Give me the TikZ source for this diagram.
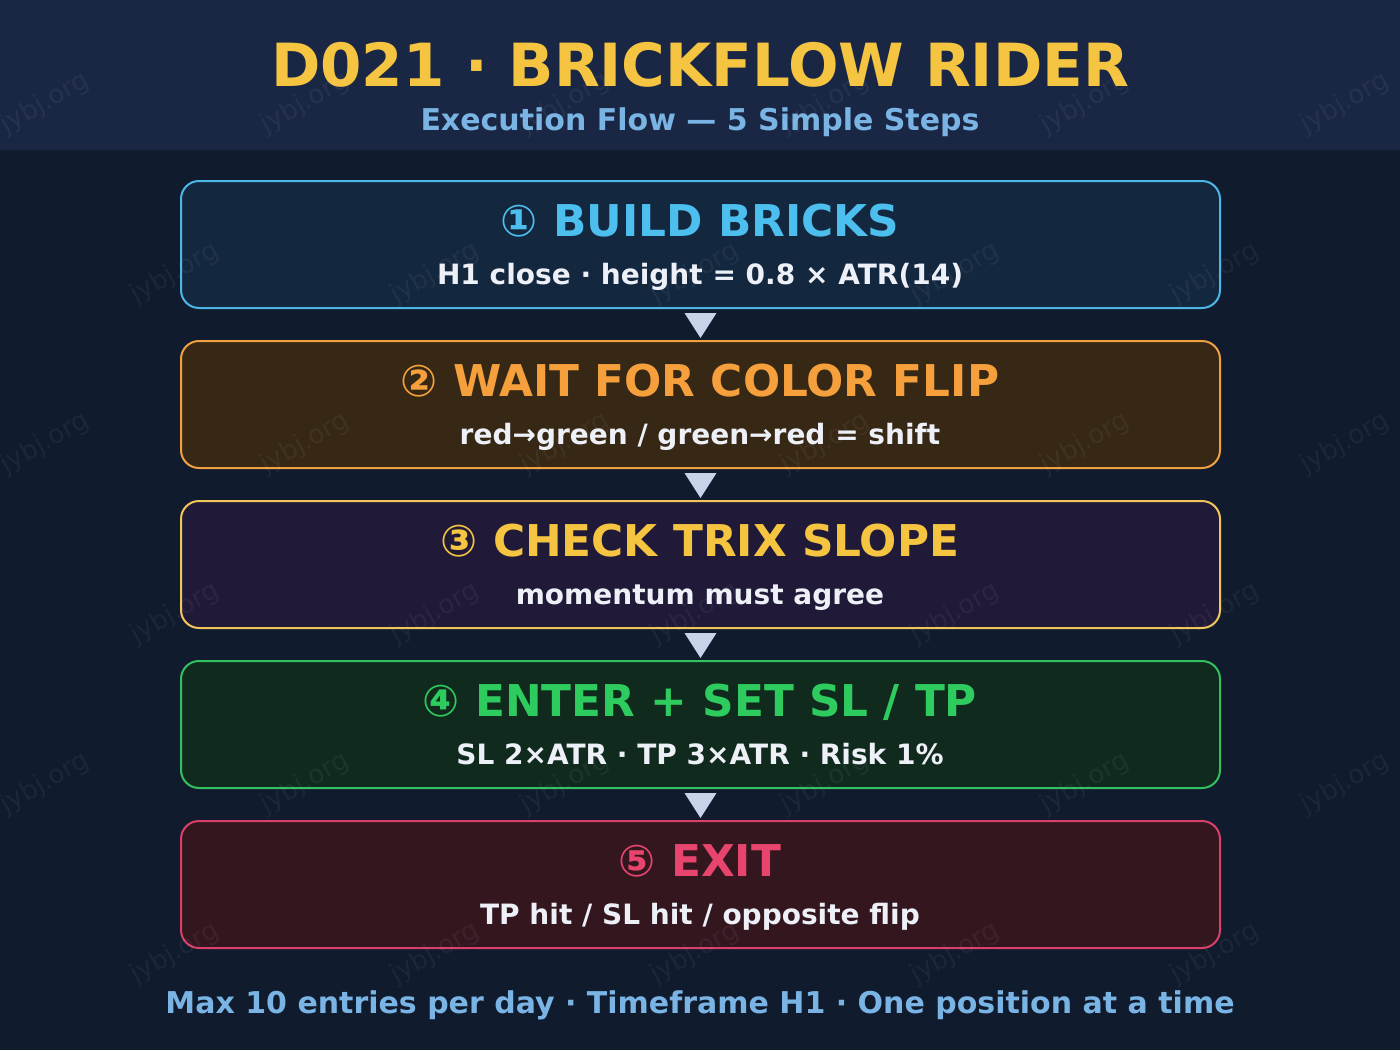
\documentclass[tikz,border=0pt]{standalone}
\usepackage{fontspec}
\setmainfont{DejaVu Sans}
\newcommand{\fsz}[1]{\fontsize{#1}{#1}\selectfont}
\definecolor{bgc}{HTML}{111B2E}
\definecolor{hdrc}{HTML}{1A2744}
\definecolor{titc}{HTML}{F5C542}
\definecolor{subc}{HTML}{7AB4E4}
\definecolor{txtc}{HTML}{EEF0F8}
\definecolor{arrc}{HTML}{C8D3EA}
\definecolor{fillA}{HTML}{13273F}\definecolor{lineA}{HTML}{4CB6E6}\definecolor{textA}{HTML}{4DBFEE}
\definecolor{fillB}{HTML}{362814}\definecolor{lineB}{HTML}{F0A042}\definecolor{textB}{HTML}{F5A03C}
\definecolor{fillC}{HTML}{201A38}\definecolor{lineC}{HTML}{F2C55A}\definecolor{textC}{HTML}{F5C542}
\definecolor{fillD}{HTML}{102B1E}\definecolor{lineD}{HTML}{33C060}\definecolor{textD}{HTML}{2ECC5F}
\definecolor{fillE}{HTML}{34161F}\definecolor{lineE}{HTML}{D9406A}\definecolor{textE}{HTML}{E8456E}
\tikzset{
  stepbox/.style={draw, rectangle, rounded corners=18pt, line width=2pt, outer sep=0pt,
    minimum width=1039pt, minimum height=127pt, inner sep=0pt},
  boxtitle/.style={anchor=base, inner sep=0pt, font=\fsz{43.8}\bfseries},
  boxsub/.style={anchor=base, inner sep=0pt, text=txtc, font=\fsz{28}\bfseries},
  flowarrow/.style={fill=arrc, draw=none},
  wm/.style={rotate=30, inner sep=0pt, text=white, text opacity=0.05, font=\fsz{26}}
}
\begin{document}
\begin{tikzpicture}[x=1pt,y=-1pt]
\useasboundingbox (0,0) rectangle (1400,1050);
\fill[bgc] (0,0) rectangle (1400,1050);
\fill[hdrc] (0,0) rectangle (1400,150);
% header
\node[anchor=base, inner sep=0pt, text=titc, font=\fsz{59.5}\bfseries] (title) at (700,86) {D021 · BRICKFLOW RIDER};
\node[anchor=base, inner sep=0pt, text=subc, font=\fsz{30}\bfseries] (subtitle) at (700,130) {Execution Flow — 5 Simple Steps};
% boxes
\node[stepbox, fill=fillA, draw=lineA] (b1) at (700.5,244.5) {};
\node[stepbox, fill=fillB, draw=lineB] (b2) at (700.5,404.5) {};
\node[stepbox, fill=fillC, draw=lineC] (b3) at (700.5,564.5) {};
\node[stepbox, fill=fillD, draw=lineD] (b4) at (700.5,724.5) {};
\node[stepbox, fill=fillE, draw=lineE] (b5) at (700.5,884.5) {};
% box texts
\node[boxtitle, text=textA] (t1) at (700,236) {① BUILD BRICKS};
\node[boxsub] (s1) at (700,284) {H1 close · height = 0.8 × ATR(14)};
\node[boxtitle, text=textB] (t2) at (700,396) {② WAIT FOR COLOR FLIP};
\node[boxsub] (s2) at (700,444) {red→green / green→red = shift};
\node[boxtitle, text=textC] (t3) at (700,556) {③ CHECK TRIX SLOPE};
\node[boxsub] (s3) at (700,604) {momentum must agree};
\node[boxtitle, text=textD] (t4) at (700,716) {④ ENTER + SET SL / TP};
\node[boxsub] (s4) at (700,764) {SL 2×ATR · TP 3×ATR · Risk 1\%};
\node[boxtitle, text=textE] (t5) at (700,876) {⑤ EXIT};
\node[boxsub] (s5) at (700,924) {TP hit / SL hit / opposite flip};
% arrows
\foreach \a/\b in {b1/b2,b2/b3,b3/b4,b4/b5}{
  \fill[flowarrow] ([xshift=-16pt,yshift=-5pt]\a.south) -- ([xshift=16pt,yshift=-5pt]\a.south) -- ([yshift=3pt]\b.north) -- cycle;
}
% footer
\node[anchor=base, inner sep=0pt, text=subc, font=\fsz{30}\bfseries] (footer) at (700,1013) {Max 10 entries per day · Timeframe H1 · One position at a time};
% watermark
\foreach \yy in {103,443,783}{
  \foreach \xx in {45,305,565,825,1085,1345}{
    \node[wm] at (\xx,\yy) {jybj.org};
  }
}
\foreach \yy in {273,613,953}{
  \foreach \xx in {175,435,695,955,1215}{
    \node[wm] at (\xx,\yy) {jybj.org};
  }
}
\end{tikzpicture}
\end{document}
